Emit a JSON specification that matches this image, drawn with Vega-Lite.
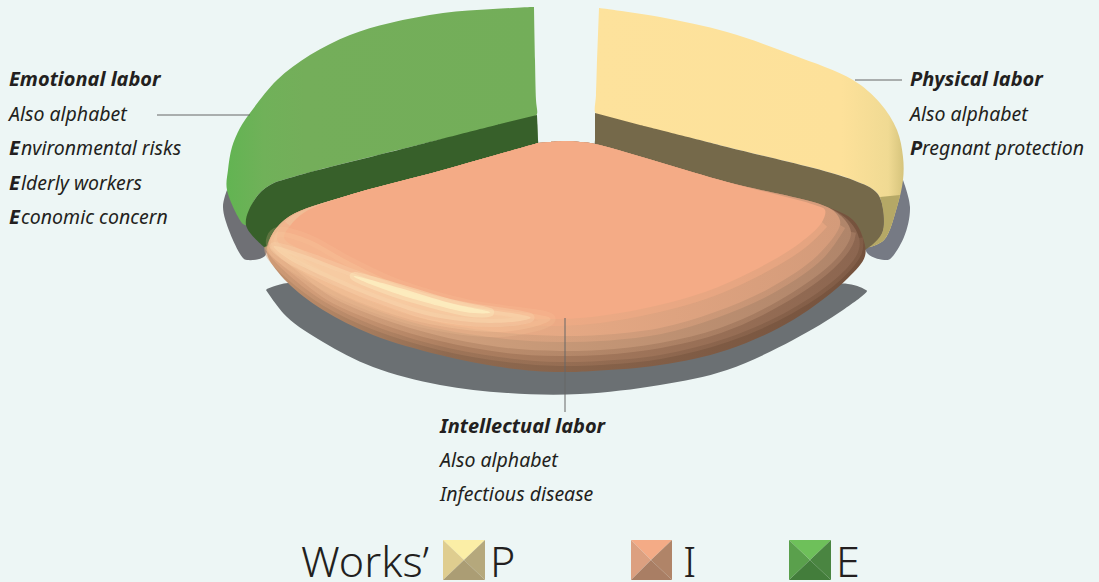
{"$schema":"https://vega.github.io/schema/vega-lite/v6.json","width":1099,"height":582,"padding":0,"autosize":"none","background":"#edf6f5","view":{"stroke":null},
"datasets":{
"shadowL":[{"x":227,"y":190,"i":1},{"x":223,"y":207,"i":2},{"x":230,"y":233,"i":3},{"x":243,"y":258,"i":4},{"x":247,"y":260,"i":5},{"x":265,"y":256,"i":6},{"x":270,"y":225,"i":7}],
"shadowR":[{"x":903,"y":180,"i":1},{"x":910,"y":207,"i":2},{"x":904,"y":237,"i":3},{"x":890,"y":259,"i":4},{"x":886,"y":260,"i":5},{"x":868,"y":254,"i":6},{"x":860,"y":225,"i":7}],
"shadowB":[{"x":266,"y":290,"i":1},{"x":287,"y":317,"i":2},{"x":323,"y":342,"i":3},{"x":373,"y":367,"i":4},{"x":440,"y":385,"i":5},{"x":507,"y":393,"i":6},{"x":580,"y":394,"i":7},{"x":660,"y":385,"i":8},{"x":727,"y":370,"i":9},{"x":793,"y":340,"i":10},{"x":843,"y":310,"i":11},{"x":867,"y":291,"i":12},{"x":866,"y":290,"i":13},{"x":848,"y":284,"i":14},{"x":600,"y":300,"i":15},{"x":288,"y":283,"i":16},{"x":267,"y":289,"i":17}],
"greenTop":[{"x":534,"y":7,"i":1},{"x":535,"y":60,"i":2},{"x":536,"y":100,"i":3},{"x":537,"y":114,"i":4},{"x":535,"y":116,"i":5},{"x":410,"y":147,"i":6},{"x":293,"y":177,"i":7},{"x":270,"y":185,"i":8},{"x":255,"y":199,"i":9},{"x":246,"y":225,"i":10},{"x":243,"y":224,"i":11},{"x":227,"y":190,"i":12},{"x":228,"y":170,"i":13},{"x":232,"y":147,"i":14},{"x":240,"y":128,"i":15},{"x":250,"y":113,"i":16},{"x":277,"y":80,"i":17},{"x":310,"y":55,"i":18},{"x":350,"y":35,"i":19},{"x":390,"y":23,"i":20},{"x":443,"y":13,"i":21},{"x":493,"y":9,"i":22},{"x":532,"y":7,"i":23}],
"greenDark":[{"x":537,"y":115,"i":1},{"x":537.5,"y":125,"i":2},{"x":538,"y":140,"i":3},{"x":538,"y":160,"i":4},{"x":443,"y":190,"i":5},{"x":343,"y":215,"i":6},{"x":303,"y":225,"i":7},{"x":280,"y":240,"i":8},{"x":267,"y":250,"i":9},{"x":265,"y":248,"i":10},{"x":246,"y":225,"i":11},{"x":255,"y":199,"i":12},{"x":270,"y":185,"i":13},{"x":293,"y":177,"i":14},{"x":410,"y":147,"i":15},{"x":500,"y":124,"i":16}],
"yellowTop":[{"x":599,"y":8,"i":1},{"x":660,"y":17,"i":2},{"x":727,"y":32,"i":3},{"x":793,"y":55,"i":4},{"x":853,"y":80,"i":5},{"x":880,"y":103,"i":6},{"x":897,"y":130,"i":7},{"x":903,"y":157,"i":8},{"x":903,"y":180,"i":9},{"x":897,"y":207,"i":10},{"x":884,"y":240,"i":11},{"x":868,"y":247,"i":12},{"x":882,"y":233,"i":13},{"x":883,"y":210,"i":14},{"x":877,"y":193,"i":15},{"x":853,"y":180,"i":16},{"x":727,"y":147,"i":17},{"x":597,"y":114,"i":18},{"x":595,"y":112,"i":19},{"x":596,"y":95,"i":20},{"x":597,"y":60,"i":21}],
"yellowTip":[{"x":900,"y":195,"i":1},{"x":897,"y":207,"i":2},{"x":884,"y":240,"i":3},{"x":868,"y":247,"i":4},{"x":882,"y":233,"i":5},{"x":883,"y":210,"i":6},{"x":880,"y":197,"i":7}],
"yellowDark":[{"x":595,"y":113,"i":1},{"x":595,"y":125,"i":2},{"x":595,"y":140,"i":3},{"x":595,"y":160,"i":4},{"x":727,"y":195,"i":5},{"x":827,"y":222,"i":6},{"x":853,"y":240,"i":7},{"x":863,"y":250,"i":8},{"x":868,"y":248,"i":9},{"x":882,"y":233,"i":10},{"x":883,"y":210,"i":11},{"x":877,"y":193,"i":12},{"x":853,"y":180,"i":13},{"x":727,"y":147,"i":14},{"x":640,"y":125,"i":15}],
"o0":[{"x":550,"y":142,"i":1},{"x":565,"y":141,"i":2},{"x":580,"y":142,"i":3},{"x":595,"y":144,"i":4},{"x":727,"y":182,"i":5},{"x":827,"y":207,"i":6},{"x":853,"y":220,"i":7},{"x":863,"y":238,"i":8},{"x":865,"y":256,"i":9},{"x":848,"y":278,"i":10},{"x":793,"y":320,"i":11},{"x":727,"y":350,"i":12},{"x":660,"y":365,"i":13},{"x":593,"y":371,"i":14},{"x":560,"y":372,"i":15},{"x":507,"y":368,"i":16},{"x":440,"y":355,"i":17},{"x":373,"y":335,"i":18},{"x":323,"y":310,"i":19},{"x":287,"y":282,"i":20},{"x":268,"y":257,"i":21},{"x":267,"y":247,"i":22},{"x":273,"y":233,"i":23},{"x":290,"y":216,"i":24},{"x":343,"y":197,"i":25},{"x":443,"y":170,"i":26},{"x":538,"y":143,"i":27}],
"o1":[{"x":550,"y":142,"i":1},{"x":565,"y":141,"i":2},{"x":580,"y":142,"i":3},{"x":595,"y":144,"i":4},{"x":727,"y":182,"i":5},{"x":827,"y":207,"i":6},{"x":850,"y":222,"i":7},{"x":859,"y":238,"i":8},{"x":858,"y":252,"i":9},{"x":840,"y":275,"i":10},{"x":790,"y":310,"i":11},{"x":727,"y":338,"i":12},{"x":660,"y":355,"i":13},{"x":600,"y":361,"i":14},{"x":560,"y":362,"i":15},{"x":507,"y":358,"i":16},{"x":440,"y":346,"i":17},{"x":375,"y":326,"i":18},{"x":325,"y":302,"i":19},{"x":290,"y":276,"i":20},{"x":270,"y":255,"i":21},{"x":268,"y":247,"i":22},{"x":273,"y":233,"i":23},{"x":290,"y":216,"i":24},{"x":343,"y":197,"i":25},{"x":443,"y":170,"i":26},{"x":538,"y":143,"i":27}],
"o2":[{"x":550,"y":142,"i":1},{"x":565,"y":141,"i":2},{"x":580,"y":142,"i":3},{"x":595,"y":144,"i":4},{"x":727,"y":182,"i":5},{"x":827,"y":207,"i":6},{"x":845,"y":220,"i":7},{"x":851,"y":232,"i":8},{"x":848,"y":243,"i":9},{"x":830,"y":265,"i":10},{"x":780,"y":300,"i":11},{"x":720,"y":328,"i":12},{"x":660,"y":343,"i":13},{"x":600,"y":350,"i":14},{"x":560,"y":351,"i":15},{"x":507,"y":348,"i":16},{"x":440,"y":336,"i":17},{"x":380,"y":318,"i":18},{"x":330,"y":296,"i":19},{"x":296,"y":270,"i":20},{"x":272,"y":250,"i":21},{"x":269,"y":245,"i":22},{"x":273,"y":233,"i":23},{"x":290,"y":216,"i":24},{"x":343,"y":197,"i":25},{"x":443,"y":170,"i":26},{"x":538,"y":143,"i":27}],
"o3":[{"x":550,"y":142,"i":1},{"x":565,"y":141,"i":2},{"x":580,"y":142,"i":3},{"x":595,"y":144,"i":4},{"x":727,"y":182,"i":5},{"x":827,"y":207,"i":6},{"x":838,"y":216,"i":7},{"x":840,"y":225,"i":8},{"x":818,"y":255,"i":9},{"x":770,"y":288,"i":10},{"x":715,"y":312,"i":11},{"x":660,"y":328,"i":12},{"x":600,"y":335,"i":13},{"x":560,"y":336,"i":14},{"x":507,"y":333,"i":15},{"x":440,"y":323,"i":16},{"x":385,"y":307,"i":17},{"x":335,"y":285,"i":18},{"x":300,"y":262,"i":19},{"x":274,"y":243,"i":20},{"x":277,"y":232,"i":21},{"x":292,"y":216,"i":22},{"x":343,"y":197,"i":23},{"x":443,"y":170,"i":24},{"x":538,"y":143,"i":25}],
"o4":[{"x":550,"y":142,"i":1},{"x":565,"y":141,"i":2},{"x":580,"y":142,"i":3},{"x":595,"y":144,"i":4},{"x":727,"y":182,"i":5},{"x":815,"y":205,"i":6},{"x":825,"y":210,"i":7},{"x":822,"y":222,"i":8},{"x":800,"y":243,"i":9},{"x":755,"y":270,"i":10},{"x":705,"y":292,"i":11},{"x":655,"y":306,"i":12},{"x":600,"y":316,"i":13},{"x":560,"y":319,"i":14},{"x":507,"y":317,"i":15},{"x":440,"y":306,"i":16},{"x":390,"y":293,"i":17},{"x":340,"y":272,"i":18},{"x":305,"y":252,"i":19},{"x":284,"y":238,"i":20},{"x":290,"y":226,"i":21},{"x":305,"y":212,"i":22},{"x":343,"y":197,"i":23},{"x":443,"y":170,"i":24},{"x":538,"y":143,"i":25}],
"h0":[{"x":278,"y":232,"i":1},{"x":310,"y":240,"i":2},{"x":350,"y":262,"i":3},{"x":400,"y":285,"i":4},{"x":470,"y":305,"i":5},{"x":550,"y":318,"i":6},{"x":500,"y":332,"i":7},{"x":420,"y":322,"i":8},{"x":350,"y":298,"i":9},{"x":295,"y":268,"i":10},{"x":272,"y":248,"i":11}],
"h1":[{"x":274,"y":246,"i":1},{"x":305,"y":255,"i":2},{"x":350,"y":272,"i":3},{"x":400,"y":290,"i":4},{"x":460,"y":305,"i":5},{"x":530,"y":317,"i":6},{"x":490,"y":323,"i":7},{"x":430,"y":316,"i":8},{"x":375,"y":298,"i":9},{"x":325,"y":277,"i":10},{"x":290,"y":260,"i":11}],
"h2":[{"x":355,"y":276,"i":1},{"x":400,"y":288,"i":2},{"x":450,"y":303,"i":3},{"x":490,"y":312,"i":4},{"x":465,"y":312,"i":5},{"x":410,"y":298,"i":6},{"x":370,"y":284,"i":7}],
"lead1":[{"x":157,"y":115,"i":1},{"x":250,"y":115,"i":2}],
"lead2":[{"x":855,"y":80,"i":1},{"x":902,"y":80,"i":2}],
"lead3":[{"x":565,"y":318,"i":1},{"x":565,"y":412,"i":2}],
"boldHead":[{"label":"Emotional labor","x":9,"y":80},{"label":"Physical labor","x":910,"y":80},{"label":"Intellectual labor","x":440,"y":427}],
"boldInitial":[{"label":"E","x":9,"y":149},{"label":"E","x":9,"y":184},{"label":"E","x":9,"y":218},{"label":"P","x":910,"y":149}],
"regular":[{"label":"Also alphabet","x":9,"y":115},{"label":"nvironmental risks","x":21,"y":149},{"label":"lderly workers","x":21,"y":184},{"label":"conomic concern","x":21,"y":218},{"label":"Also alphabet","x":910,"y":115},{"label":"regnant protection","x":922,"y":149},{"label":"Also alphabet","x":440,"y":461},{"label":"Infectious disease","x":440,"y":495}],
"legendText":[{"label":"Works’","x":301,"y":577},{"label":"P","x":490,"y":577},{"label":"I","x":683,"y":577},{"label":"E","x":836,"y":577}],
"pT":[{"x":443,"y":540,"i":1},{"x":485,"y":540,"i":2},{"x":464,"y":560,"i":3}],
"pL":[{"x":443,"y":540,"i":1},{"x":443,"y":580,"i":2},{"x":464,"y":560,"i":3}],
"pR":[{"x":485,"y":540,"i":1},{"x":485,"y":580,"i":2},{"x":464,"y":560,"i":3}],
"pB":[{"x":443,"y":580,"i":1},{"x":485,"y":580,"i":2},{"x":464,"y":560,"i":3}],
"iT":[{"x":631,"y":540,"i":1},{"x":672,"y":540,"i":2},{"x":651,"y":560,"i":3}],
"iL":[{"x":631,"y":540,"i":1},{"x":631,"y":580,"i":2},{"x":651,"y":560,"i":3}],
"iR":[{"x":672,"y":540,"i":1},{"x":672,"y":580,"i":2},{"x":651,"y":560,"i":3}],
"iB":[{"x":631,"y":580,"i":1},{"x":672,"y":580,"i":2},{"x":651,"y":560,"i":3}],
"eT":[{"x":789,"y":540,"i":1},{"x":831,"y":540,"i":2},{"x":810,"y":560,"i":3}],
"eL":[{"x":789,"y":540,"i":1},{"x":789,"y":580,"i":2},{"x":810,"y":560,"i":3}],
"eR":[{"x":831,"y":540,"i":1},{"x":831,"y":580,"i":2},{"x":810,"y":560,"i":3}],
"eB":[{"x":789,"y":580,"i":1},{"x":831,"y":580,"i":2},{"x":810,"y":560,"i":3}]
},
"encoding":{"x":{"field":"x","type":"quantitative","axis":null,"scale":{"domain":[0,1099],"range":[0,1099],"nice":false,"zero":false}},"y":{"field":"y","type":"quantitative","axis":null,"scale":{"domain":[0,582],"range":[0,582],"nice":false,"zero":false}},"order":{"field":"i"}},
"layer":[
{"data":{"name":"shadowL"},"mark":{"type":"line","fill":"#6f7075","stroke":null,"interpolate":"catmull-rom"}},
{"data":{"name":"shadowR"},"mark":{"type":"line","fill":"#767a84","stroke":null,"interpolate":"catmull-rom"}},
{"data":{"name":"shadowB"},"mark":{"type":"line","fill":"#6b7073","stroke":null,"interpolate":"catmull-rom"}},
{"data":{"name":"greenTop"},"mark":{"type":"line","stroke":null,"interpolate":"catmull-rom","fill":{"gradient":"linear","x1":0,"x2":1,"y1":0,"y2":0,"stops":[{"offset":0,"color":"#62b452"},{"offset":0.12,"color":"#70b159"},{"offset":0.25,"color":"#74ae5a"},{"offset":1,"color":"#73ae59"}]}}},
{"data":{"name":"greenDark"},"mark":{"type":"line","fill":"#37602a","stroke":null,"interpolate":"catmull-rom"}},
{"data":{"name":"yellowTop"},"mark":{"type":"line","stroke":null,"interpolate":"catmull-rom","fill":{"gradient":"linear","x1":0,"x2":1,"y1":0,"y2":0,"stops":[{"offset":0,"color":"#fde29c"},{"offset":0.8,"color":"#fde19a"},{"offset":0.95,"color":"#f0da93"},{"offset":1,"color":"#d6c47c"}]}}},
{"data":{"name":"yellowTip"},"mark":{"type":"line","fill":"#b5a866","stroke":null,"interpolate":"catmull-rom"}},
{"data":{"name":"yellowDark"},"mark":{"type":"line","fill":"#75694a","stroke":null,"interpolate":"catmull-rom"}},
{"data":{"name":"o0"},"mark":{"type":"line","stroke":null,"interpolate":"catmull-rom","fill":{"gradient":"linear","x1":0,"x2":1,"y1":0,"y2":0,"stops":[{"offset":0,"color":"#c3926e"},{"offset":0.3,"color":"#8f6a50"},{"offset":1,"color":"#75523d"}]}}},
{"data":{"name":"o1"},"transform":[{"filter":"datum.i>=8 && datum.i<=22"}],"mark":{"type":"line","interpolate":"catmull-rom","strokeWidth":8,"strokeOpacity":0.5,"stroke":{"gradient":"linear","x1":0,"x2":1,"y1":0,"y2":0,"stops":[{"offset":0,"color":"#dda680"},{"offset":0.3,"color":"#ad7f60"},{"offset":1,"color":"#8c6650"}]}}},
{"data":{"name":"o1"},"mark":{"type":"line","stroke":null,"interpolate":"catmull-rom","fill":{"gradient":"linear","x1":0,"x2":1,"y1":0,"y2":0,"stops":[{"offset":0,"color":"#dda680"},{"offset":0.3,"color":"#ad7f60"},{"offset":1,"color":"#8c6650"}]}}},
{"data":{"name":"o2"},"transform":[{"filter":"datum.i>=8 && datum.i<=22"}],"mark":{"type":"line","interpolate":"catmull-rom","strokeWidth":10,"strokeOpacity":0.5,"stroke":{"gradient":"linear","x1":0,"x2":1,"y1":0,"y2":0,"stops":[{"offset":0,"color":"#ebb78f"},{"offset":0.3,"color":"#cf9f7c"},{"offset":1,"color":"#b0856a"}]}}},
{"data":{"name":"o2"},"mark":{"type":"line","stroke":null,"interpolate":"catmull-rom","fill":{"gradient":"linear","x1":0,"x2":1,"y1":0,"y2":0,"stops":[{"offset":0,"color":"#ebb78f"},{"offset":0.3,"color":"#cf9f7c"},{"offset":1,"color":"#b0856a"}]}}},
{"data":{"name":"o3"},"transform":[{"filter":"datum.i>=8 && datum.i<=20"}],"mark":{"type":"line","interpolate":"catmull-rom","strokeWidth":12,"strokeOpacity":0.5,"stroke":{"gradient":"linear","x1":0,"x2":1,"y1":0,"y2":0,"stops":[{"offset":0,"color":"#f1bf98"},{"offset":0.3,"color":"#ecae88"},{"offset":1,"color":"#d49b7a"}]}}},
{"data":{"name":"o3"},"mark":{"type":"line","stroke":null,"interpolate":"catmull-rom","fill":{"gradient":"linear","x1":0,"x2":1,"y1":0,"y2":0,"stops":[{"offset":0,"color":"#f1bf98"},{"offset":0.3,"color":"#ecae88"},{"offset":1,"color":"#d49b7a"}]}}},
{"data":{"name":"o4"},"transform":[{"filter":"datum.i>=8 && datum.i<=21"}],"mark":{"type":"line","interpolate":"catmull-rom","strokeWidth":14,"strokeOpacity":0.5,"stroke":"#f4ab86"}},
{"data":{"name":"o4"},"mark":{"type":"line","fill":"#f4ab86","stroke":null,"interpolate":"catmull-rom"}},
{"data":{"name":"h0"},"mark":{"type":"line","fill":"#f8c69c","fillOpacity":0.4,"stroke":"#f8c69c","strokeOpacity":0.2,"strokeWidth":10,"interpolate":"cardinal-closed"}},
{"data":{"name":"h1"},"mark":{"type":"line","fill":"#fad8ae","fillOpacity":0.55,"stroke":"#fad8ae","strokeOpacity":0.3,"strokeWidth":8,"interpolate":"cardinal-closed"}},
{"data":{"name":"h2"},"mark":{"type":"line","fill":"#fdf0c2","fillOpacity":0.75,"stroke":"#fdf0c2","strokeOpacity":0.35,"strokeWidth":8,"interpolate":"cardinal-closed"}},
{"data":{"name":"lead1"},"mark":{"type":"line","stroke":"#666666","strokeWidth":1}},
{"data":{"name":"lead2"},"mark":{"type":"line","stroke":"#666666","strokeWidth":1}},
{"data":{"name":"lead3"},"mark":{"type":"line","stroke":"#666666","strokeWidth":1}},
{"data":{"name":"pT"},"mark":{"type":"line","fill":"#fbeea6","stroke":null}},
{"data":{"name":"pL"},"mark":{"type":"line","fill":"#dfcd8f","stroke":null}},
{"data":{"name":"pR"},"mark":{"type":"line","fill":"#b5a87c","stroke":null}},
{"data":{"name":"pB"},"mark":{"type":"line","fill":"#ab9d74","stroke":null}},
{"data":{"name":"iT"},"mark":{"type":"line","fill":"#f4ab86","stroke":null}},
{"data":{"name":"iL"},"mark":{"type":"line","fill":"#dca080","stroke":null}},
{"data":{"name":"iR"},"mark":{"type":"line","fill":"#b08468","stroke":null}},
{"data":{"name":"iB"},"mark":{"type":"line","fill":"#a97e64","stroke":null}},
{"data":{"name":"eT"},"mark":{"type":"line","fill":"#6ec05a","stroke":null}},
{"data":{"name":"eL"},"mark":{"type":"line","fill":"#5aa04c","stroke":null}},
{"data":{"name":"eR"},"mark":{"type":"line","fill":"#4a8541","stroke":null}},
{"data":{"name":"eB"},"mark":{"type":"line","fill":"#437d3b","stroke":null}},
{"data":{"name":"boldHead"},"mark":{"type":"text","font":"Noto Sans","fontSize":20,"fontStyle":"italic","fontWeight":"bold","align":"left","baseline":"middle","color":"#231f20"},"encoding":{"text":{"field":"label"},"order":null}},
{"data":{"name":"boldInitial"},"mark":{"type":"text","font":"Noto Sans","fontSize":20,"fontStyle":"italic","fontWeight":"bold","align":"left","baseline":"middle","color":"#231f20"},"encoding":{"text":{"field":"label"},"order":null}},
{"data":{"name":"regular"},"mark":{"type":"text","font":"Noto Sans","fontSize":19.5,"fontStyle":"italic","align":"left","baseline":"middle","color":"#231f20"},"encoding":{"text":{"field":"label"},"order":null}},
{"data":{"name":"legendText"},"mark":{"type":"text","font":"Noto Sans","fontSize":43,"align":"left","baseline":"alphabetic","color":"#231f20","fontWeight":300},"encoding":{"text":{"field":"label"},"order":null}}
]}
